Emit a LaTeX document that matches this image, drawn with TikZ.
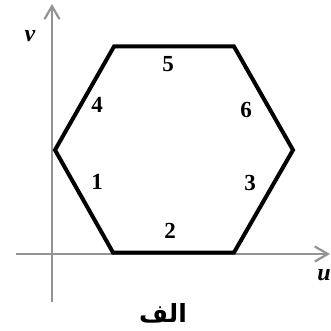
\documentclass[tikz,border=0pt]{standalone}
\usepackage{fontspec}
\setmainfont{Liberation Serif}
\newfontfamily\arabicfont[Script=Arabic]{DejaVu Sans}
\TeXXeTstate=1
\usetikzlibrary{arrows.meta}
\begin{document}
\begin{tikzpicture}[x=1pt,y=-1pt,
  axis/.style={draw=gray!85,line width=2.4pt,-{Straight Barb[length=13pt,width=15pt,line width=2.2pt]}},
  hexline/.style={draw=black,line width=4pt,line join=miter},
  lbl/.style={font=\fontsize{23}{27}\selectfont\bfseries,inner sep=0pt}]
\useasboundingbox (0,0) rectangle (331,331);
\coordinate (vs) at (52,302);
\coordinate (ve) at (52,4);
\coordinate (us) at (16,254);
\coordinate (ue) at (330,254);
\draw[axis] (vs) -- (ve);
\draw[axis] (us) -- (ue);
\coordinate (h1) at (55,150);
\coordinate (h2) at (113,252.5);
\coordinate (h3) at (234,252.5);
\coordinate (h4) at (293,150);
\coordinate (h5) at (234,46.5);
\coordinate (h6) at (114,46.5);
\draw[hexline] (h1) -- (h2) -- (h3) -- (h4) -- (h5) -- (h6) -- cycle;
\node[lbl] (l1) at (97,182) {1};
\node[lbl] (l2) at (170,231) {2};
\node[lbl] (l3) at (250,183) {3};
\node[lbl] (l4) at (97,105) {4};
\node[lbl] (l5) at (168,64) {5};
\node[lbl] (l6) at (246,110) {6};
\node[lbl,font=\fontsize{24}{28}\selectfont\bfseries\itshape] (lv) at (30,36) {v};
\node[lbl,font=\fontsize{24}{28}\selectfont\bfseries\itshape] (lu) at (324,275) {u};
\node[inner sep=0pt,font=\fontsize{25}{29}\selectfont\arabicfont\bfseries] (cap) at (163,313) {\beginR الف\endR};
\end{tikzpicture}
\end{document}
